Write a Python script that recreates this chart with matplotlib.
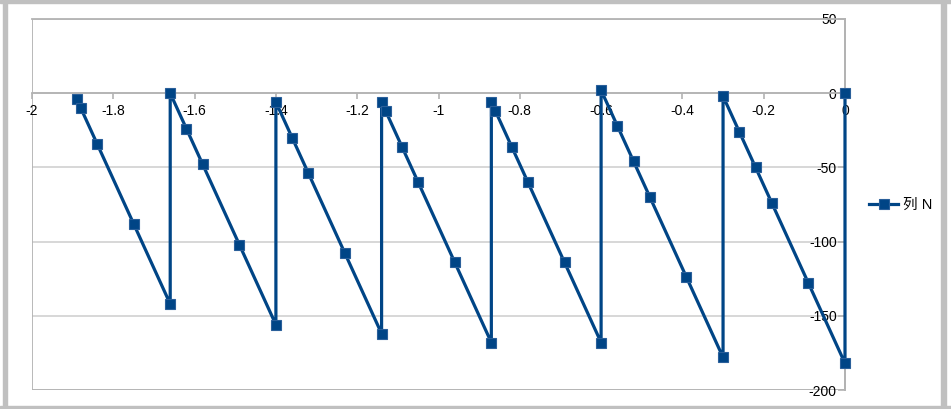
import matplotlib.pyplot as plt
from matplotlib.patches import Rectangle

# values
x_vals = [-1.89, -1.88, -1.84, -1.75, -1.66, -1.66, -1.62, -1.58, -1.49, -1.40,
          -1.40, -1.36, -1.32, -1.23, -1.14, -1.14, -1.13, -1.09, -1.05, -0.96,
          -0.87, -0.87, -0.86, -0.82, -0.78, -0.69, -0.60, -0.60, -0.56, -0.52,
          -0.48, -0.39, -0.30, -0.30, -0.26, -0.22, -0.18, -0.09, 0.0, 0.0]
y_vals = [-4, -10, -34, -88, -142, 0, -24, -48, -102, -156,
          -6, -30, -54, -108, -162, -6, -12, -36, -60, -114,
          -168, -6, -12, -36, -60, -114, -168, 2, -22, -46,
          -70, -124, -178, -2, -26, -50, -74, -128, -182, 0]
x_ticks = [-2, -1.8, -1.6, -1.4, -1.2, -1, -0.8, -0.6, -0.4, -0.2, 0]
x_tick_labels = ['-2', '-1.8', '-1.6', '-1.4', '-1.2', '-1', '-0.8', '-0.6', '-0.4', '-0.2', '0']
y_ticks = [50, 0, -50, -100, -150, -200]
series_name = '列 N'

W, H = 951, 409
line_color = '#004586'
grid_color = '#d4d4d4'
frame_color = '#b3b3b3'

plt.rcParams['font.family'] = ['Liberation Sans', 'Noto Sans CJK SC', 'DejaVu Sans']

fig = plt.figure(figsize=(W / 100, H / 100), dpi=100)
ax = fig.add_axes([32 / W, (H - 390) / H, (845 - 32) / W, (390 - 19) / H])

ax.set_xlim(-2, 0)
ax.set_ylim(-200, 50)

# gridlines and plot-area frame
for yv in y_ticks:
    ax.axhline(yv, color=grid_color, lw=1.3, zorder=0)
ax.axvline(-2, color=frame_color, lw=1.3, zorder=0)
ax.axhline(-200, color=frame_color, lw=1.3, zorder=0)

# axes cross at the origin like the spreadsheet chart
for s in ['top', 'right']:
    ax.spines[s].set_color(frame_color)
    ax.spines[s].set_linewidth(1.3)
ax.spines['bottom'].set_position(('data', 0))
ax.spines['bottom'].set_color(frame_color)
ax.spines['bottom'].set_linewidth(1.3)
ax.spines['left'].set_position(('data', 0))
ax.spines['left'].set_color(frame_color)
ax.spines['left'].set_linewidth(1.3)

ax.set_xticks(x_ticks)
ax.set_xticklabels(x_tick_labels)
ax.set_yticks(y_ticks)
ax.set_yticklabels([str(v) for v in y_ticks])
ax.tick_params(axis='x', direction='out', length=4, width=1.2, color=frame_color,
               labelsize=10, pad=4)
ax.tick_params(axis='y', direction='out', length=5, width=1.2, color=frame_color,
               labelsize=10, pad=1)

ax.plot(x_vals, y_vals, color=line_color, lw=2.3, marker='s', markersize=7.5,
        markerfacecolor=line_color, markeredgecolor='#2a5f9a', markeredgewidth=0.8,
        label=series_name, zorder=3, clip_on=False)

fig.legend(loc='center left', bbox_to_anchor=(869 / W, 1 - 205 / H), frameon=False,
           fontsize=10.5, handlelength=2.0, handletextpad=0.3, borderpad=0,
           borderaxespad=0)

# screenshot border of the chart object
for (x0, y0, w, h) in [(0, 0, W, 3), (3, 0, 4, H), (941, 0, 5, H), (0, 406, W, 3)]:
    fig.patches.append(Rectangle((x0 / W, 1 - (y0 + h) / H), w / W, h / H,
                                 transform=fig.transFigure, color='#c0c0c0', zorder=0))

fig.savefig('out.png', dpi=100)
